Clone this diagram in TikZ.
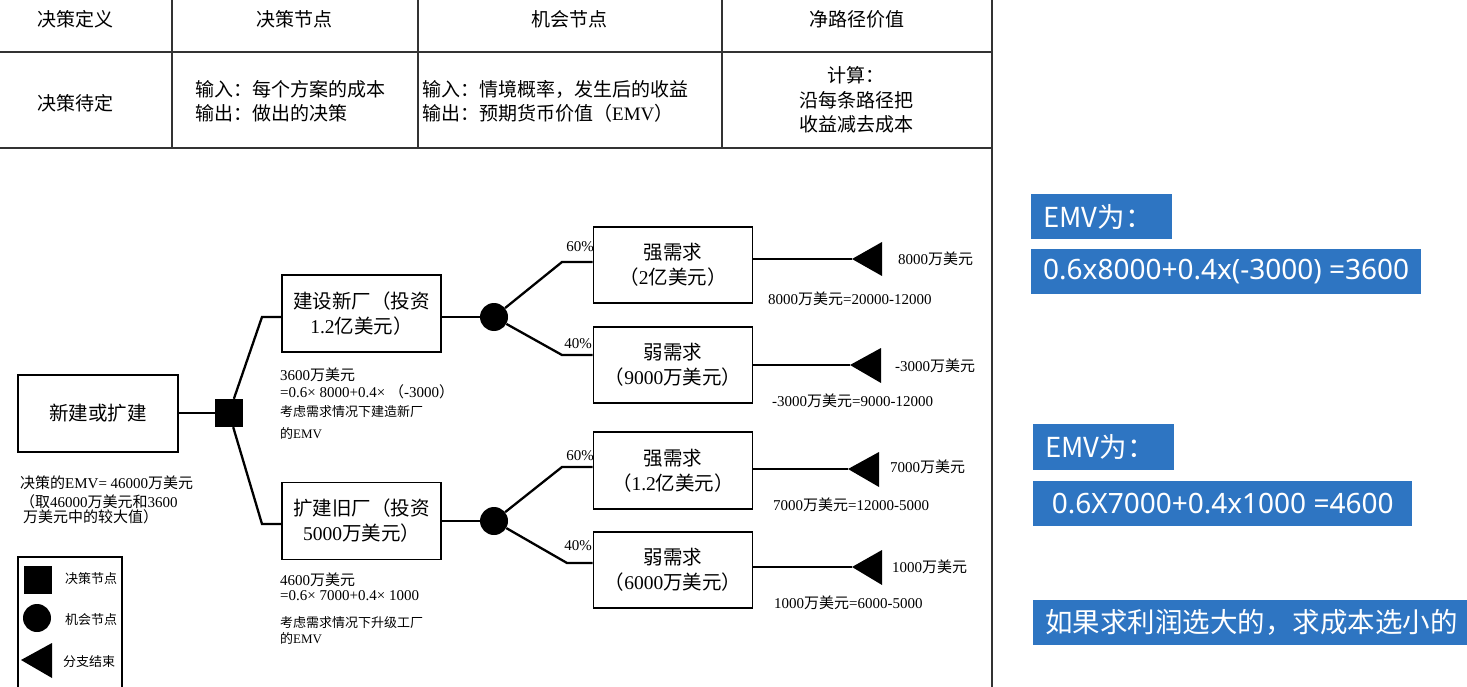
\documentclass[tikz,border=0pt]{standalone}
\usepackage{fontspec}
\setmainfont{Noto Sans CJK SC}
\newfontfamily\lat{Liberation Serif}
\newfontfamily\uisans{Noto Sans}
\definecolor{pptblue}{HTML}{2E75C2}
\begin{document}
\begin{tikzpicture}[x=1pt,y=-1pt,
  every node/.style={inner sep=0pt},
  rule/.style={line width=1.4pt,draw=black!80},
  tcell/.style={font=\fontsize{19}{24}\selectfont},
  box/.style={draw,line width=1.8pt,minimum width=159pt,minimum height=77pt,align=center,font=\fontsize{19.5}{25}\selectfont},
  conn/.style={line width=2.3pt},
  dsq/.style={fill=black,minimum size=28pt},
  cnode/.style={circle,fill=black,minimum size=28pt},
  lbl/.style={anchor=west,font=\fontsize{15}{17}\selectfont},
  sml/.style={anchor=west,font=\fontsize{13}{15}\selectfont},
  pct/.style={font=\fontsize{15}{17}\selectfont\lat},
  emv/.style={fill=pptblue,text=white,anchor=north west,minimum height=45pt,inner xsep=12pt,align=left,font=\fontsize{27.5}{30}\selectfont},
  emvnum/.style={fill=pptblue,text=white,anchor=north west,minimum height=45pt,font=\fontsize{28}{30}\selectfont\uisans},
]
\useasboundingbox (0,0) rectangle (1467,687);

% ---------- table ----------
\draw[rule] (0,52) -- (992,52);
\draw[rule] (0,148) -- (992,148);
\draw[rule] (172,0) -- (172,148);
\draw[rule] (418,0) -- (418,148);
\draw[rule] (722,0) -- (722,148);
\draw[rule] (992,0) -- (992,687);

\node[tcell] (h1) at (75,19) {决策定义};
\node[tcell] (h2) at (294,19) {决策节点};
\node[tcell] (h3) at (569,19) {机会节点};
\node[tcell] (h4) at (857,19) {净路径价值};
\node[tcell] (r1) at (75,103) {决策待定};
\node[tcell,anchor=west,align=left] (r2) at (195,101) {输入：每个方案的成本\\输出：做出的决策};
\node[tcell,anchor=west,align=left] (r3) at (422,101) {输入：情境概率，发生后的收益\\输出：预期货币价值（{\lat EMV}）};
\node[tcell,align=center,font=\fontsize{19}{24.5}\selectfont] (r4) at (856,100) {计算：\\沿每条路径把\\收益减去成本};

% ---------- decision tree ----------
\node[box,minimum width=160pt] (root) at (98,413.5) {新建或扩建};
\node[dsq] (dq) at (229,413) {};
\node[box] (b1) at (361.5,313.5) {建设新厂（投资\\{\lat 1.2}亿美元）};
\node[box] (b2) at (361.5,521) {扩建旧厂（投资\\{\lat 5000}万美元）};
\node[cnode] (c1) at (494,317) {};
\node[cnode] (c2) at (494,521) {};
\node[box,minimum height=76pt] (s1) at (673,265) {强需求\\（{\lat 2}亿美元）};
\node[box,minimum height=76pt] (s2) at (673,365) {弱需求\\（{\lat 9000}万美元）};
\node[box] (s3) at (673,470.5) {强需求\\（{\lat 1.2}亿美元）};
\node[box,minimum height=76pt] (s4) at (673,570) {弱需求\\（{\lat 6000}万美元）};

\coordinate (ka) at (262,317);
\coordinate (kb) at (262,524);
\coordinate (k1) at (562,262);
\coordinate (k2) at (562,355);
\coordinate (k3) at (562,467);
\coordinate (k4) at (567,563);
\coordinate (e1) at (852,259);
\coordinate (e2) at (850,365);
\coordinate (e3) at (848,469);
\coordinate (e4) at (852,567);

\draw[conn] (root.east |- dq) -- (dq.west);
\draw[conn] (dq) -- (ka) -- (ka -| b1.west);
\draw[conn] (dq) -- (kb) -- (kb -| b2.west);
\draw[conn] (b1.east |- c1) -- (c1);
\draw[conn] (b2.east |- c2) -- (c2);
\draw[conn] (c1) -- (k1) -- (k1 -| s1.west);
\draw[conn] (c1) -- (k2) -- (k2 -| s2.west);
\draw[conn] (c2) -- (k3) -- (k3 -| s3.west);
\draw[conn] (c2) -- (k4) -- (k4 -| s4.west);
\draw[conn] (s1.east |- e1) -- (e1);
\draw[conn] (s2.east |- e2) -- (e2);
\draw[conn] (s3.east |- e3) -- (e3);
\draw[conn] (s4.east |- e4) -- (e4);
\fill (e1) -- ++(30,-17) -- ++(0,34) -- cycle;
\fill (e2) -- ++(31,-17) -- ++(0,35) -- cycle;
\fill (e3) -- ++(31,-17) -- ++(0,35) -- cycle;
\fill (e4) -- ++(30,-17) -- ++(0,35) -- cycle;

% probabilities
\node[pct] (p1) at (580,247) {60\%};
\node[pct] (p2) at (578,344) {40\%};
\node[pct] (p3) at (580,456) {60\%};
\node[pct] (p4) at (578,546) {40\%};

% end values
\node[lbl] (v1) at (898,259) {{\lat 8000}万美元};
\node[lbl] (v2) at (895,366) {{\lat -3000}万美元};
\node[lbl] (v3) at (890,467) {{\lat 7000}万美元};
\node[lbl] (v4) at (892,567) {{\lat 1000}万美元};
\node[lbl] (w1) at (768,299) {{\lat 8000}万美元{\lat =20000-12000}};
\node[lbl] (w2) at (772,401) {{\lat -3000}万美元{\lat =9000-12000}};
\node[lbl] (w3) at (773,505) {{\lat 7000}万美元{\lat =12000-5000}};
\node[lbl] (w4) at (774,603) {{\lat 1000}万美元{\lat =6000-5000}};

% EMV notes under branch boxes
\node[lbl] (n1) at (280,375) {{\lat 3600}万美元};
\node[lbl] (n2) at (280,392) {{\lat =0.6× 8000+0.4× }（{\lat -3000}）};
\node[sml] (n3) at (280,412) {考虑需求情况下建造新厂};
\node[sml] (n4) at (280,433) {的{\lat EMV}};
\node[lbl] (m1) at (280,580) {{\lat 4600}万美元};
\node[lbl] (m2) at (280,596) {{\lat =0.6× 7000+0.4× 1000}};
\node[sml] (m3) at (280,623) {考虑需求情况下升级工厂};
\node[sml] (m4) at (280,638) {的{\lat EMV}};

% decision EMV
\node[lbl] (d1) at (20,483) {决策的{\lat EMV= 46000}万美元};
\node[lbl] (d2) at (20,502) {（取{\lat 46000}万美元和{\lat 3600}};
\node[lbl] (d3) at (23,517) {万美元中的较大值）};

% legend
\draw[line width=1.8pt] (18,690) -- (18,557) -- (122,557) -- (122,690);
\node[dsq] (lg1) at (37.5,579.5) {};
\node[cnode] (lg2) at (37,618) {};
\coordinate (lg3) at (21,660);
\fill (lg3) -- ++(31,-17) -- ++(0,35) -- cycle;
\node[sml] (lt1) at (65,579) {决策节点};
\node[sml] (lt2) at (65,620) {机会节点};
\node[sml] (lt3) at (63,662) {分支结束};

% ---------- blue notes ----------
\node[emv,text width=117pt] (q1) at (1031,194) {EMV为：};
\node[emvnum,minimum width=390pt] (q2) at (1031,249) {0.6x8000+0.4x(-3000) =3600};
\node[emv,text width=117pt,minimum height=46pt] (q3) at (1033,424) {EMV为：};
\node[emvnum,minimum width=379pt] (q4) at (1033,481) {0.6X7000+0.4x1000 =4600};
\node[emv,text width=410pt] (q5) at (1033,600) {如果求利润选大的，求成本选小的};
\end{tikzpicture}
\end{document}
